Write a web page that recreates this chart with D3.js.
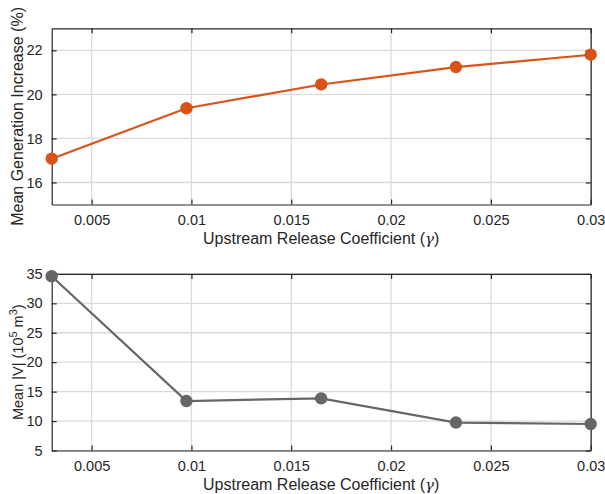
<!DOCTYPE html>
<html>
<head>
<meta charset="utf-8">
<script src="https://cdn.jsdelivr.net/npm/d3@7"></script>
<style>
  html, body { margin: 0; padding: 0; background: #fff; }
  svg { display: block; font-family: "Liberation Sans", Arial, Helvetica, sans-serif; }
</style>
</head>
<body>
<svg id="chart" width="605" height="494"></svg>
<script>
// Upstream release coefficient values (shared x for both panels)
const gammaValues = [0.003, 0.00975, 0.0165, 0.02325, 0.03];
// Mean generation increase (%)
const generationIncrease = [17.08, 19.37, 20.45, 21.24, 21.80];
// Mean |V| (10^5 m^3)
const meanV = [34.6, 13.4, 13.85, 9.75, 9.5];

const xTicks = [0.005, 0.01, 0.015, 0.02, 0.025, 0.03];
const xTickLabels = ["0.005", "0.01", "0.015", "0.02", "0.025", "0.03"];
const yTicksTop = [16, 18, 20, 22];
const yTicksBottom = [5, 10, 15, 20, 25, 30, 35];

const svg = d3.select("#chart");
const axisColor = "#262626";
const gridColor = "#dadada";

function panel(opts) {
  const { top, bottom, left, right, yDomain, yTicks, values, color, ylabel, ylabelSize, ylabelX } = opts;
  const x = d3.scaleLinear().domain([0.003, 0.03]).range([left, right]);
  const y = d3.scaleLinear().domain(yDomain).range([bottom, top]);
  const g = svg.append("g");

  // grid lines
  g.append("g").selectAll("line").data(xTicks).join("line")
    .attr("x1", d => x(d)).attr("x2", d => x(d))
    .attr("y1", top).attr("y2", bottom)
    .attr("stroke", gridColor).attr("stroke-width", 1.3);
  g.append("g").selectAll("line").data(yTicks).join("line")
    .attr("x1", left).attr("x2", right)
    .attr("y1", d => y(d)).attr("y2", d => y(d))
    .attr("stroke", gridColor).attr("stroke-width", 1.3);

  // axes (ticks point inward)
  const tickLen = 5;
  const xAxisB = d3.axisBottom(x).tickValues(xTicks)
    .tickFormat((d, i) => xTickLabels[i]).tickSizeInner(-tickLen).tickSizeOuter(0).tickPadding(10);
  const xAxisT = d3.axisTop(x).tickValues(xTicks).tickFormat("").tickSizeInner(-tickLen).tickSizeOuter(0);
  const yAxisL = d3.axisLeft(y).tickValues(yTicks).tickFormat(d3.format("d"))
    .tickSizeInner(-tickLen).tickSizeOuter(0).tickPadding(9);
  const yAxisR = d3.axisRight(y).tickValues(yTicks).tickFormat("").tickSizeInner(-tickLen).tickSizeOuter(0);

  const styleAxis = sel => {
    sel.selectAll("path").attr("stroke", axisColor).attr("stroke-width", 1.2);
    sel.selectAll("line").attr("stroke", axisColor).attr("stroke-width", 1.2);
    sel.selectAll("text").attr("fill", axisColor).attr("font-size", 14.5)
      .attr("font-family", "Liberation Sans, Arial, sans-serif");
  };
  g.append("g").attr("transform", `translate(0,${bottom})`).call(xAxisB).call(styleAxis);
  g.append("g").attr("transform", `translate(0,${top})`).call(xAxisT).call(styleAxis);
  g.append("g").attr("transform", `translate(${left},0)`).call(yAxisL).call(styleAxis);
  g.append("g").attr("transform", `translate(${right},0)`).call(yAxisR).call(styleAxis);

  // data line and markers
  const line = d3.line().x((d, i) => x(gammaValues[i])).y(d => y(d));
  g.append("path").datum(values).attr("d", line)
    .attr("fill", "none").attr("stroke", color).attr("stroke-width", 2.2);
  g.append("g").selectAll("circle").data(values).join("circle")
    .attr("cx", (d, i) => x(gammaValues[i])).attr("cy", d => y(d))
    .attr("r", 6.2).attr("fill", color);

  // x label
  const xl = g.append("text")
    .attr("x", (left + right) / 2 + 0).attr("y", bottom + 39)
    .attr("text-anchor", "middle").attr("font-size", 16).attr("fill", axisColor);
  xl.append("tspan").text("Upstream Release Coefficient (");
  xl.append("tspan").attr("font-style", "italic").attr("font-family", "DejaVu Serif, serif").attr("font-size", 15).text("γ");
  xl.append("tspan").text(")");

  // y label
  const yl = g.append("text")
    .attr("transform", `translate(${ylabelX},${(top + bottom) / 2}) rotate(-90)`)
    .attr("text-anchor", "middle").attr("font-size", ylabelSize).attr("fill", axisColor);
  ylabel(yl);
}

panel({
  top: 28.3, bottom: 204.5, left: 51.7, right: 590.7,
  yDomain: [15, 23], yTicks: yTicksTop, values: generationIncrease,
  color: "#d95319", ylabelSize: 16, ylabelX: 23,
  ylabel: t => t.text("Mean Generation Increase (%)")
});

panel({
  top: 273.9, bottom: 450.5, left: 51.7, right: 590.7,
  yDomain: [5, 35], yTicks: yTicksBottom, values: meanV,
  color: "#666666", ylabelSize: 14.5, ylabelX: 23,
  ylabel: t => {
    t.append("tspan").text("Mean |V| (10");
    t.append("tspan").attr("dy", -6).attr("font-size", 11).text("5");
    t.append("tspan").attr("dy", 6).text(" m");
    t.append("tspan").attr("dy", -6).attr("font-size", 11).text("3");
    t.append("tspan").attr("dy", 6).text(")");
  }
});
</script>
</body>
</html>
